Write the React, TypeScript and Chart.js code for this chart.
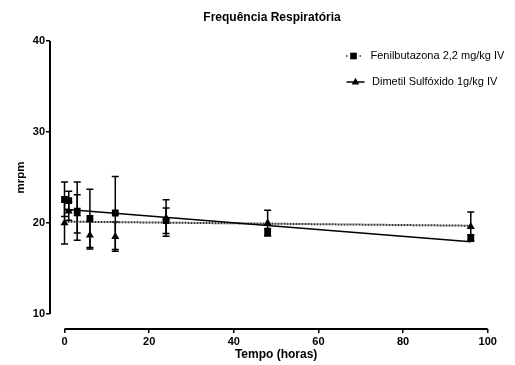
import React, { useEffect, useRef } from "react";
import { Chart, registerables } from "chart.js";

Chart.register(...registerables);

const timeHours = [0, 1, 3, 6, 12, 24, 48, 96];
const fenilMean = [22.6, 22.45, 21.3, 20.5, 21.1, 20.25, 19.0, 18.4];
const fenilSem = [1.9, 1.05, 3.2, 3.2, 4.0, 1.4, 0.4, 0.3];
const dmsoMean = [20.0, 21.3, 21.0, 18.65, 18.5, 20.55, 20.0, 19.6];
const dmsoSem = [2.3, 1.0, 2.1, 1.5, 1.6, 2.0, 1.4, 1.6];

const fitX = [0, 96];
const fenilFit = [21.5, 17.95];
const dmsoFit = [20.15, 19.7];

const xTicks = [0, 20, 40, 60, 80, 100];
const yTicks = [10, 20, 30, 40];

const seriesLabels = ["Fenilbutazona 2,2 mg/kg IV", "Dimetil Sulfóxido 1g/kg IV"];
const chartTitle = "Frequência Respiratória";
const xTitle = "Tempo (horas)";
const yTitle = "mrpm";

const FONT = "Arial, 'Liberation Sans', sans-serif";

const decorPlugin = {
  id: "decor",
  beforeDatasetsDraw(chart: any) {
    const { ctx, chartArea, scales } = chart;
    const x = scales.x;
    const y = scales.y;
    ctx.save();
    ctx.strokeStyle = "#000";
    ctx.lineWidth = 2;
    ctx.beginPath();
    ctx.moveTo(chartArea.left, y.getPixelForValue(yTicks[0]));
    ctx.lineTo(chartArea.left, y.getPixelForValue(yTicks[yTicks.length - 1]));
    ctx.moveTo(x.getPixelForValue(xTicks[0]), chartArea.bottom);
    ctx.lineTo(x.getPixelForValue(xTicks[xTicks.length - 1]), chartArea.bottom);
    ctx.stroke();

    ctx.lineWidth = 1.5;
    const sets: [number[], number[]][] = [
      [fenilMean, fenilSem],
      [dmsoMean, dmsoSem],
    ];
    sets.forEach(([m, s]) => {
      m.forEach((v, i) => {
        const px = x.getPixelForValue(timeHours[i]);
        const top = y.getPixelForValue(v + s[i]);
        const bot = y.getPixelForValue(v - s[i]);
        ctx.beginPath();
        ctx.moveTo(px, top);
        ctx.lineTo(px, bot);
        ctx.moveTo(px - 3.5, top);
        ctx.lineTo(px + 3.5, top);
        ctx.moveTo(px - 3.5, bot);
        ctx.lineTo(px + 3.5, bot);
        ctx.stroke();
      });
    });
    ctx.restore();
  },
  afterDraw(chart: any) {
    const { ctx, scales } = chart;
    const x = scales.x;
    const y = scales.y;
    ctx.save();
    ctx.fillStyle = "#000";
    ctx.textAlign = "center";
    ctx.textBaseline = "middle";

    ctx.font = `bold 12px ${FONT}`;
    ctx.fillText(chartTitle, 272, 18);

    const xc = (x.getPixelForValue(xTicks[0]) + x.getPixelForValue(xTicks[xTicks.length - 1])) / 2;
    ctx.fillText(xTitle, xc, 355);

    const yc = (y.getPixelForValue(yTicks[0]) + y.getPixelForValue(yTicks[yTicks.length - 1])) / 2;
    ctx.save();
    ctx.translate(20.5, yc);
    ctx.rotate(-Math.PI / 2);
    ctx.font = `bold 11.5px ${FONT}`;
    ctx.fillText(yTitle, 0, 0);
    ctx.restore();

    // legend
    ctx.textAlign = "left";
    ctx.font = `11px ${FONT}`;
    const l1y = 56;
    const l2y = 82;
    // item 1: dotted line with square
    ctx.fillStyle = "#333";
    ctx.fillRect(346, l1y - 0.75, 1.5, 1.5);
    ctx.fillRect(359.5, l1y - 0.75, 1.5, 1.5);
    ctx.fillStyle = "#000";
    ctx.fillRect(353.5 - 3.3, l1y - 3.3, 6.6, 6.6);
    ctx.fillText(seriesLabels[0], 370.5, l1y);
    // item 2: solid line with triangle
    ctx.strokeStyle = "#000";
    ctx.lineWidth = 1.5;
    ctx.beginPath();
    ctx.moveTo(346.5, l2y);
    ctx.lineTo(364.5, l2y);
    ctx.stroke();
    ctx.beginPath();
    ctx.moveTo(355.5, l2y - 4.2);
    ctx.lineTo(359.3, l2y + 2.5);
    ctx.lineTo(351.7, l2y + 2.5);
    ctx.closePath();
    ctx.fill();
    ctx.fillText(seriesLabels[1], 372, l2y);
    ctx.restore();
  },
};

export default function App() {
  const ref = useRef<HTMLCanvasElement | null>(null);

  useEffect(() => {
    if (!ref.current) return;
    Chart.defaults.font.family = FONT;
    const chart = new Chart(ref.current, {
      type: "scatter",
      data: {
        datasets: [
          {
            label: seriesLabels[0],
            data: timeHours.map((t, i) => ({ x: t, y: fenilMean[i] })),
            pointStyle: "rect",
            pointRadius: 4.8,
            backgroundColor: "#000",
            borderColor: "#000",
            borderWidth: 0,
            order: 0,
          },
          {
            label: seriesLabels[1],
            data: timeHours.map((t, i) => ({ x: t, y: dmsoMean[i] })),
            pointStyle: "triangle",
            pointRadius: 4.6,
            backgroundColor: "#000",
            borderColor: "#000",
            borderWidth: 0,
            order: 0,
          },
          {
            label: "fit1",
            data: fitX.map((t, i) => ({ x: t, y: fenilFit[i] })),
            showLine: true,
            pointRadius: 0,
            borderColor: "#000",
            borderWidth: 1.5,
            order: 1,
          },
          {
            label: "fit2",
            data: fitX.map((t, i) => ({ x: t, y: dmsoFit[i] })),
            showLine: true,
            pointRadius: 0,
            borderColor: "#333",
            borderWidth: 2,
            borderDash: [2, 1],
            order: 1,
          },
        ],
      },
      options: {
        animation: false,
        responsive: true,
        maintainAspectRatio: false,
        layout: { padding: { top: 41, right: 27.3, bottom: 0, left: 0 } },
        plugins: {
          legend: { display: false },
          title: { display: false },
          tooltip: { enabled: false },
        },
        scales: {
          x: {
            type: "linear",
            min: -3.43,
            max: 100,
            afterBuildTicks: (scale: any) => {
              scale.ticks = xTicks.map((v) => ({ value: v }));
            },
            afterFit: (scale: any) => {
              scale.height = 36;
            },
            grid: {
              drawOnChartArea: false,
              drawTicks: true,
              tickLength: 4,
              color: "#000",
              lineWidth: 1.5,
            },
            border: { display: false },
            ticks: {
              color: "#000",
              font: { size: 11, weight: "bold", family: FONT },
              padding: 2,
              maxRotation: 0,
              autoSkip: false,
            },
          },
          y: {
            type: "linear",
            min: 8.35,
            max: 40,
            afterBuildTicks: (scale: any) => {
              scale.ticks = yTicks.map((v) => ({ value: v }));
            },
            afterFit: (scale: any) => {
              scale.width = 50;
            },
            grid: {
              drawOnChartArea: false,
              drawTicks: true,
              tickLength: 4,
              color: "#000",
              lineWidth: 1.5,
            },
            border: { display: false },
            ticks: {
              color: "#000",
              font: { size: 11, weight: "bold", family: FONT },
              padding: 1,
              autoSkip: false,
            },
          },
        },
      },
      plugins: [decorPlugin],
    } as any);
    return () => chart.destroy();
  }, []);

  return (
    <div style={{ position: "absolute", left: 0, top: 0, width: 515, height: 365, background: "#fff" }}>
      <canvas ref={ref} />
    </div>
  );
}
